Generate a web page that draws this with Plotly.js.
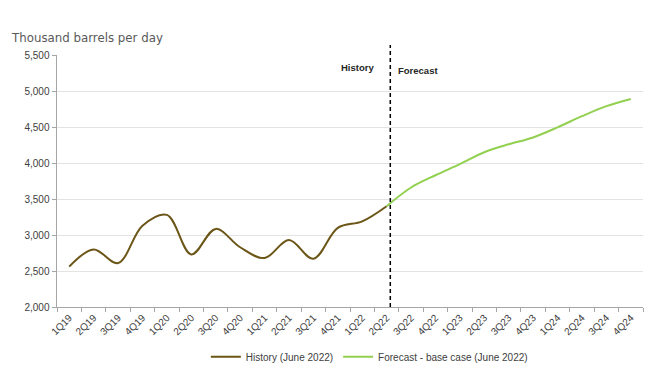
<!DOCTYPE html>
<html>
<head>
<meta charset="utf-8">
<script src="https://cdn.plot.ly/plotly-3.0.1.min.js"></script>
<style>html,body{margin:0;padding:0;background:#fff;}#chart{width:650px;height:371px;}</style>
</head>
<body>
<div id="chart"></div>
<script>
const quarters = ["1Q19","2Q19","3Q19","4Q19","1Q20","2Q20","3Q20","4Q20","1Q21","2Q21","3Q21","4Q21","1Q22","2Q22","3Q22","4Q22","1Q23","2Q23","3Q23","4Q23","1Q24","2Q24","3Q24","4Q24"];
const historyValues = [2560,2800,2610,3130,3280,2730,3085,2830,2680,2930,2670,3100,3190,3400,null,null,null,null,null,null,null,null,null,null];
const forecastValues = [null,null,null,null,null,null,null,null,null,null,null,null,null,3400,3660,3830,3985,4150,4260,4355,4495,4650,4790,4890];
const yTicks = [2000,2500,3000,3500,4000,4500,5000,5500];

const traces = [
  {x: quarters, y: historyValues, name: "History (June 2022)", type: "scatter", mode: "lines",
   line: {color: "#6b5617", width: 2, shape: "spline", smoothing: 1}},
  {x: quarters, y: forecastValues, name: "Forecast - base case (June 2022)", type: "scatter", mode: "lines",
   line: {color: "#92d050", width: 2, shape: "spline", smoothing: 1}}
];

const layout = {
  width: 650, height: 371,
  margin: {l: 57, r: 7, t: 55, b: 64, autoexpand: false},
  paper_bgcolor: "#fff", plot_bgcolor: "#fff",
  font: {family: "Liberation Sans, Arial, sans-serif", size: 10, color: "#404040"},
  showlegend: true,
  legend: {orientation: "h", x: 0.533, xanchor: "center", y: -0.14, yanchor: "top",
           font: {size: 10, color: "#404040"}, itemwidth: 30},
  xaxis: {type: "category", categoryarray: quarters, tickangle: -45, tickson: "boundaries",
          ticks: "outside", ticklen: 4, tickcolor: "#a6a6a6", showline: true, linecolor: "#a6a6a6",
          showgrid: false, range: [-0.5, 23.5], automargin: false, tickfont: {size: 10, color: "#404040"}},
  yaxis: {range: [2000, 5500], tickvals: yTicks, tickformat: ",d", ticks: "outside", ticklen: 4,
          tickcolor: "#a6a6a6", showline: true, linecolor: "#a6a6a6", linewidth: 1.5, automargin: false,
          gridcolor: "#e3e3e3", zeroline: false, tickfont: {size: 10, color: "#404040"}},
  shapes: [{type: "line", xref: "x", yref: "paper", x0: 13.15, x1: 13.15, y0: 0, y1: 1.04,
            line: {color: "#000", width: 1.5, dash: "4px,3px"}}],
  annotations: [
    {text: "Thousand barrels per day", xref: "paper", yref: "paper", x: -0.082, y: 1.068,
     xanchor: "left", yanchor: "middle", showarrow: false,
     font: {family: "DejaVu Sans, Verdana, sans-serif", size: 11.8, color: "#595959"}},
    {text: "<b>History</b>", xref: "x", yref: "paper", x: 11.8, y: 0.95, showarrow: false,
     xanchor: "center", yanchor: "middle", font: {size: 9.5, color: "#262626"}},
    {text: "<b>Forecast</b>", xref: "x", yref: "paper", x: 14.3, y: 0.94, showarrow: false,
     xanchor: "center", yanchor: "middle", font: {size: 9.5, color: "#262626"}}
  ]
};

Plotly.newPlot("chart", traces, layout, {displayModeBar: false, staticPlot: true});
</script>
</body>
</html>
